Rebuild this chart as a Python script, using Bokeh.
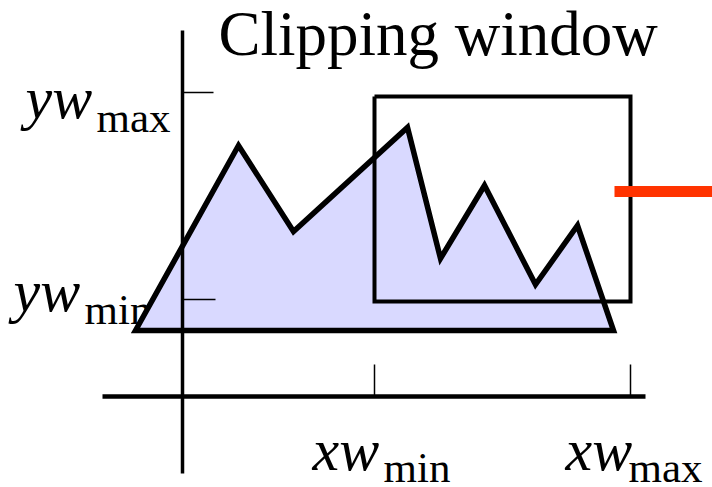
from bokeh.plotting import figure
from bokeh.models import Range1d
from bokeh.core.properties import value
from bokeh.embed import file_html
from bokeh.resources import INLINE

# Diagram data (in picture pixel coordinates)
poly_x = [135, 238, 293, 407, 440, 484, 535, 577, 613]
poly_y = [330, 145, 231, 127, 258, 185, 284, 225, 330]

win_left, win_right = 374, 630
win_top, win_bottom = 96, 301

axis_x = 182
axis_y = 396
yaxis_top, yaxis_bottom = 30, 473
xaxis_left, xaxis_right = 102, 645

ytick_vals = [92, 299]
ytick_ends = [213, 215]
xtick_vals = [win_left, win_right]
xtick_top = 364

red_y = 191
red_x0, red_x1 = 614, 712

title_text = "Clipping window"
main_labels = ["yw", "yw", "xw", "xw"]
main_x = [25, 13, 312, 565]
main_y = [97, 290, 449, 449]
sub_labels = ["max", "min", "min", "max"]
sub_x = [96, 84, 383, 628]
sub_y = [117, 309, 467, 467]

W, H = 712, 487
p = figure(width=W, height=H, output_backend="svg", toolbar_location=None,
           x_range=Range1d(0, W), y_range=Range1d(H, 0),
           min_border=0, min_border_left=0, min_border_right=0,
           min_border_top=0, min_border_bottom=0)
p.axis.visible = False
p.grid.visible = False
p.outline_line_color = None
p.background_fill_color = "white"
p.border_fill_color = "white"

# texts (drawn first so the polygon outline passes over them, as in the reference)
p.text(x=[218], y=[33], text=[title_text], text_font=value("Liberation Serif"),
       text_font_size="63px", text_baseline="alphabetic", text_align="left",
       text_color="black")
p.text(x=main_x, y=main_y, text=main_labels, text_font=value("Liberation Serif"),
       text_font_style="italic", text_font_size="60px", text_baseline="alphabetic",
       text_align="left", text_color="black")
p.text(x=sub_x, y=sub_y, text=sub_labels, text_font=value("Liberation Serif"),
       text_font_size="43px", text_baseline="alphabetic", text_align="left",
       text_color="black")

# filled polygon
p.patch(poly_x, poly_y, fill_color="#D9D9FF", line_color="black",
        line_width=5.5, line_join="miter")

# clipping window
p.line([win_left, win_right, win_right, win_left, win_left],
       [win_top, win_top, win_bottom, win_bottom, win_top],
       line_color="black", line_width=4, line_join="miter")

# axes
p.line([axis_x, axis_x], [yaxis_top, yaxis_bottom], line_color="black", line_width=3.5)
p.line([xaxis_left, xaxis_right], [axis_y, axis_y], line_color="black", line_width=4.5)

# ticks
for yv, xe in zip(ytick_vals, ytick_ends):
    p.line([axis_x, xe], [yv, yv], line_color="black", line_width=1.5)
for xv in xtick_vals:
    p.line([xv, xv], [xtick_top, axis_y], line_color="black", line_width=1.5)

# red line
p.line([red_x0, red_x1], [red_y, red_y], line_color="#FF3300", line_width=11)

open("out.html", "w").write(file_html(p, INLINE))
